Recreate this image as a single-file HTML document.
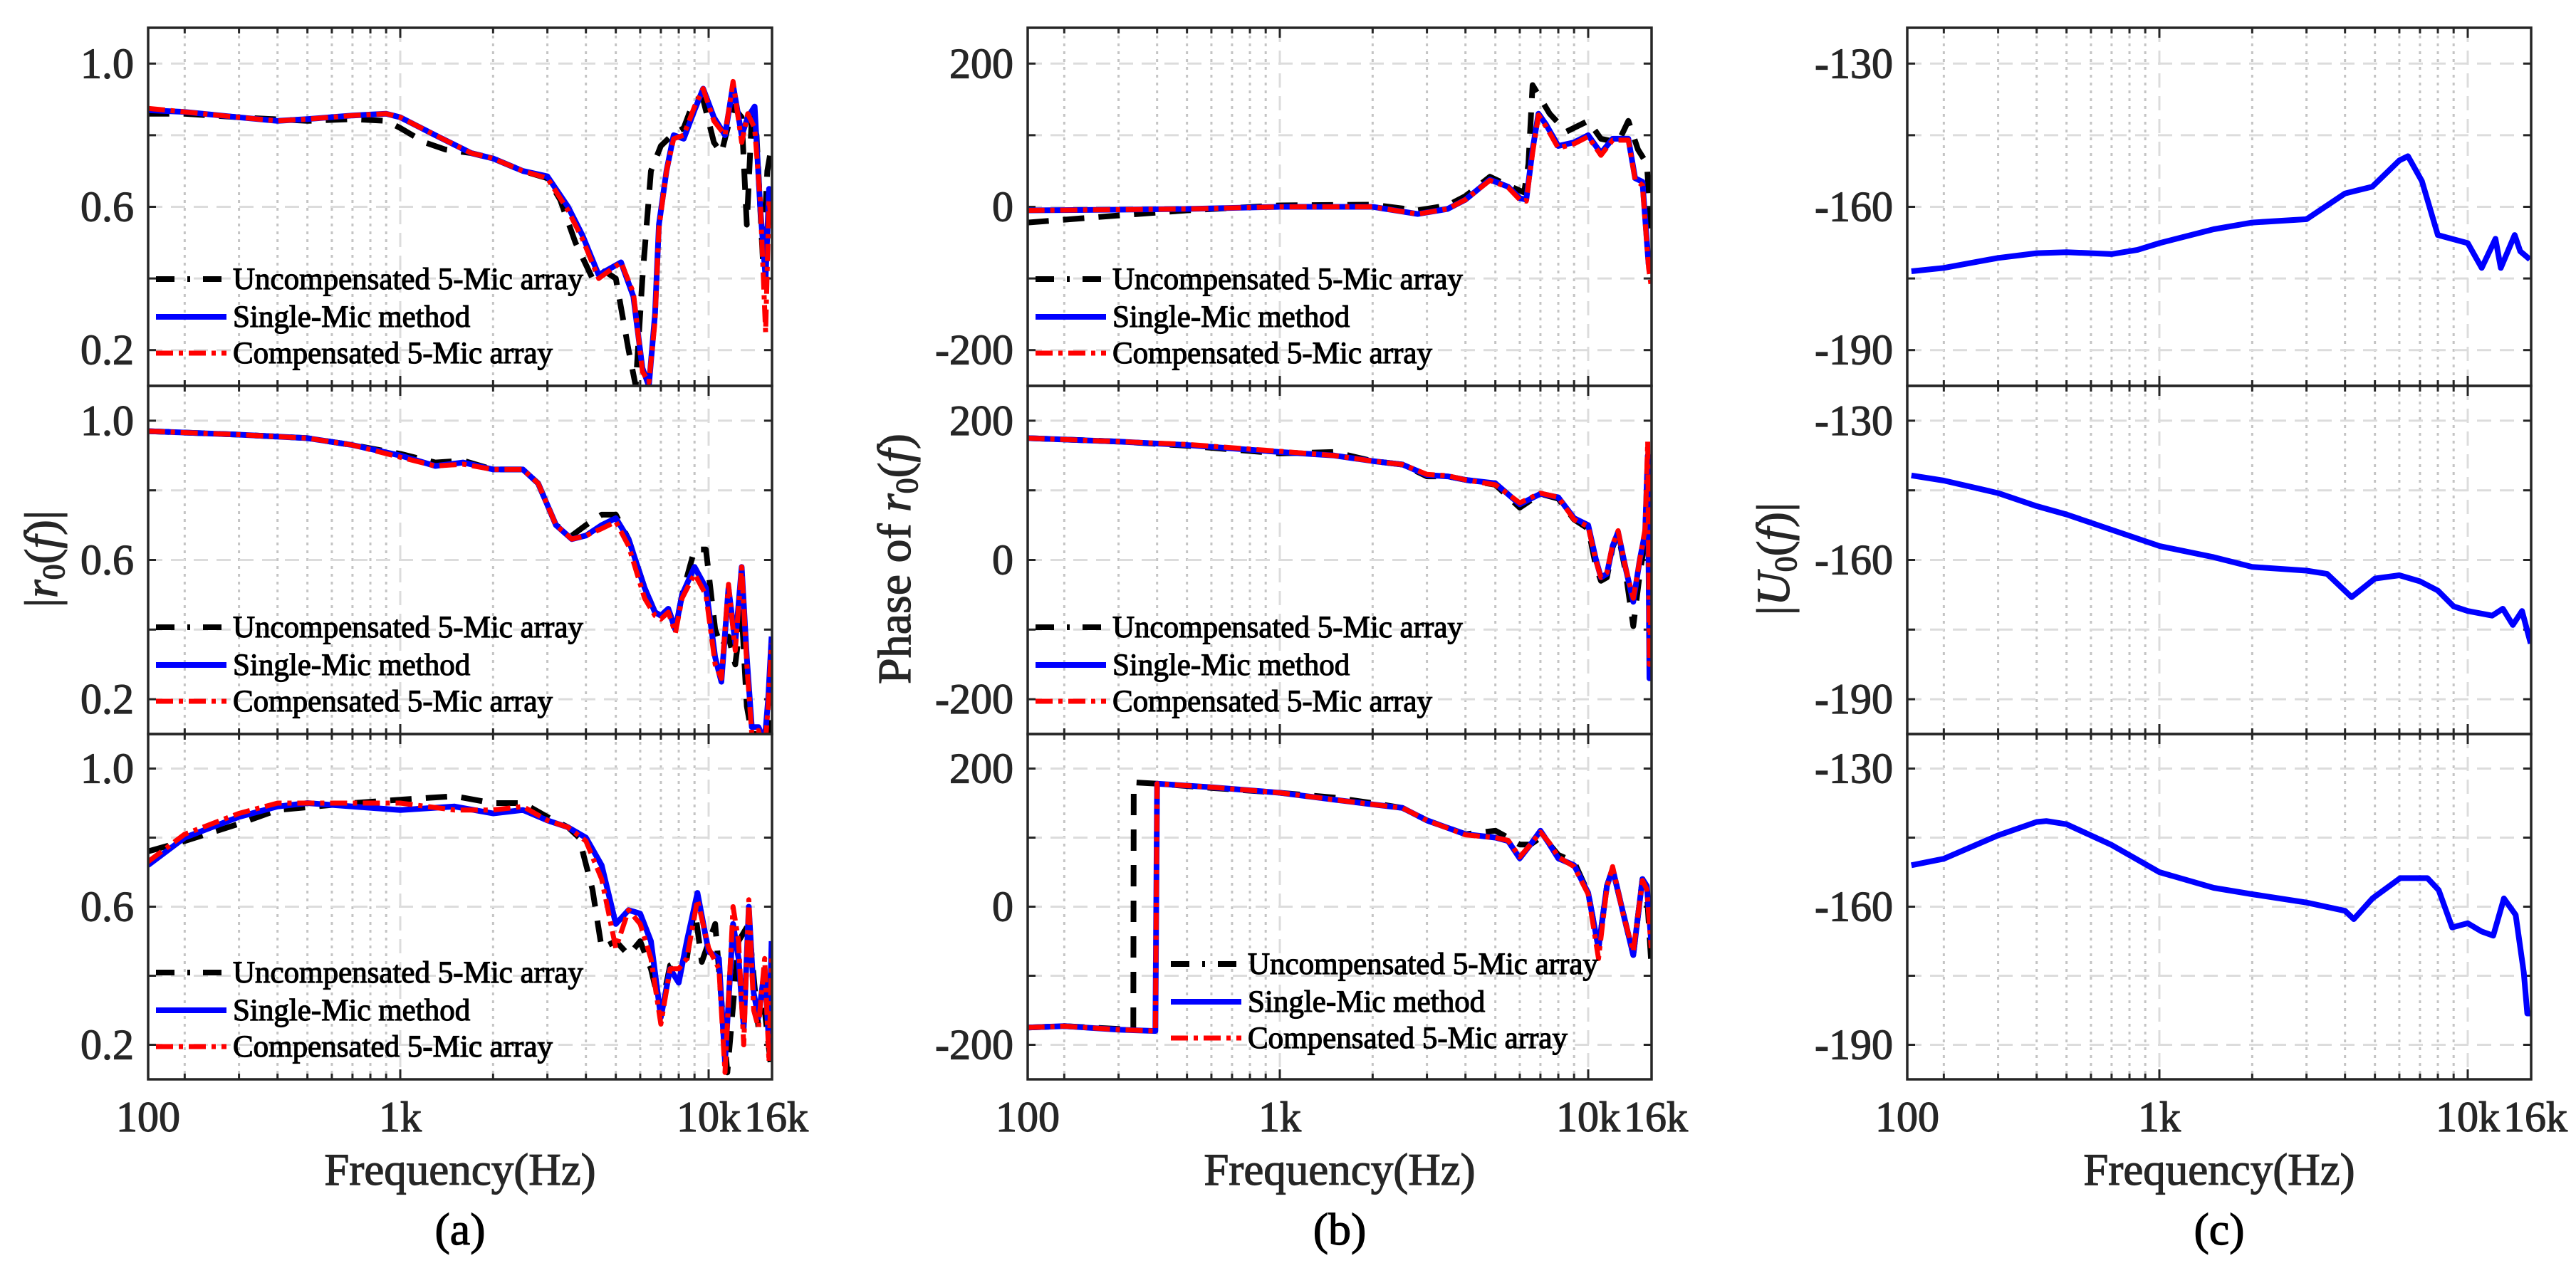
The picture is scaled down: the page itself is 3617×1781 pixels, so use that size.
<!DOCTYPE html>
<html><head><meta charset="utf-8"><style>
html,body{margin:0;padding:0;background:#fff;}
svg{display:block;font-family:"Liberation Serif",serif;}
svg text{stroke:currentColor;stroke-width:1.2px;}
</style></head><body>
<svg id="fig" width="3617" height="1781" viewBox="0 0 3617 1781" xmlns="http://www.w3.org/2000/svg"></svg>
<script>
// ---------- data ----------
const a1BlueF=[152,200,300,400,500,700,900,1000,1300,1700,2000,2500,3000,3500,3900,4400,5200,5700,6100,6400,6700,6900,7300,7700,8300,9000,9600,10400,11300,12000,12800,13400,14100,14700,15300,15700,16000];
const a1Blue=[0.87,0.865,0.85,0.84,0.845,0.855,0.86,0.85,0.80,0.75,0.735,0.70,0.685,0.60,0.52,0.41,0.445,0.35,0.15,0.10,0.30,0.55,0.70,0.80,0.79,0.87,0.93,0.85,0.80,0.94,0.80,0.85,0.88,0.60,0.40,0.65,0.55];
const a1Red=[0.875,0.865,0.85,0.84,0.845,0.855,0.86,0.85,0.80,0.75,0.735,0.70,0.68,0.59,0.51,0.40,0.445,0.36,0.14,0.11,0.28,0.54,0.70,0.79,0.80,0.88,0.93,0.84,0.80,0.95,0.78,0.86,0.82,0.62,0.25,0.62,0.55];
const a1BlackF=[152,200,300,500,700,900,1000,1200,1400,1700,2000,2500,3000,3300,3700,4200,4600,5000,5500,5800,6100,6500,7000,7600,8300,9000,9600,10400,11000,12000,12800,13300,13800,14300,15000,15500,16000];
const a1Black=[0.86,0.86,0.85,0.84,0.845,0.84,0.82,0.78,0.76,0.75,0.735,0.70,0.68,0.62,0.50,0.40,0.42,0.40,0.20,0.10,0.40,0.70,0.77,0.80,0.82,0.90,0.90,0.78,0.75,0.88,0.85,0.55,0.85,0.80,0.45,0.70,0.77];

const a2F=[152,300,500,700,1000,1300,1600,2000,2500,2800,3200,3600,4000,4500,5000,5500,6200,6700,7000,7400,7800,8200,9000,9800,10500,11000,11600,12200,12800,13300,13800,14500,15200,15600,16000];
const a2Blue=[0.97,0.96,0.95,0.93,0.90,0.87,0.88,0.86,0.86,0.82,0.70,0.66,0.67,0.70,0.72,0.66,0.52,0.45,0.44,0.46,0.40,0.50,0.58,0.52,0.32,0.25,0.52,0.36,0.58,0.32,0.12,0.12,0.08,0.20,0.38];
const a2Red=[0.97,0.96,0.95,0.93,0.895,0.87,0.875,0.86,0.86,0.82,0.70,0.66,0.67,0.69,0.71,0.64,0.49,0.44,0.43,0.45,0.39,0.49,0.56,0.50,0.30,0.26,0.53,0.34,0.58,0.30,0.10,0.11,0.05,0.18,0.36];
const a2Black=[0.97,0.96,0.95,0.93,0.905,0.88,0.885,0.86,0.86,0.82,0.70,0.67,0.70,0.73,0.73,0.66,0.52,0.45,0.44,0.46,0.40,0.50,0.63,0.63,0.40,0.35,0.38,0.30,0.45,0.18,0.10,0.10,0.05,0.10,0.25];

const a3F=[152,200,300,400,500,700,1000,1500,2000,2500,3000,3500,4000,4500,5000,5500,6000,6500,7000,7500,8000,8500,9200,10000,10800,11300,12000,12500,13000,13500,14000,14500,15200,15700,16000];
const a3Blue=[0.72,0.80,0.86,0.89,0.90,0.89,0.88,0.89,0.87,0.88,0.85,0.83,0.80,0.72,0.55,0.59,0.58,0.50,0.28,0.42,0.38,0.50,0.64,0.47,0.45,0.15,0.55,0.45,0.25,0.60,0.35,0.28,0.42,0.20,0.50];
const a3Red=[0.73,0.81,0.87,0.90,0.90,0.90,0.90,0.88,0.88,0.89,0.85,0.83,0.79,0.68,0.48,0.59,0.55,0.45,0.26,0.42,0.42,0.45,0.62,0.48,0.42,0.12,0.60,0.50,0.20,0.62,0.30,0.25,0.45,0.15,0.45];
const a3BlackF=[152,200,300,400,700,1000,1500,2000,2500,3000,3500,3800,4200,4500,5000,5500,6000,6500,7000,7500,8500,9000,9500,10500,11500,12500,13500,14500,15200,16000];
const a3Black=[0.76,0.79,0.84,0.88,0.90,0.91,0.92,0.90,0.90,0.86,0.83,0.80,0.65,0.48,0.50,0.46,0.50,0.42,0.30,0.43,0.45,0.60,0.44,0.55,0.12,0.50,0.55,0.25,0.30,0.12];

const b1F=[152,300,500,1000,2000,2800,3500,4000,4800,5500,6000,6300,6600,6900,7300,8000,9000,10000,11000,12000,13500,14200,15000,15700,16000];
const b1Blue=[-5,-4,-3,0,0,-10,-3,10,38,28,12,10,80,130,115,85,90,100,75,95,95,40,35,-80,-90];
const b1Red=[-5,-4,-3,0,0,-10,-3,10,37,27,10,8,75,128,112,82,88,98,72,93,93,38,30,-85,-110];
const b1BlackF=[152,300,500,1000,2000,2800,3500,4000,4800,5500,6200,6400,6600,7500,8500,10000,11000,12500,13500,14500,15500,16000];
const b1Black=[-22,-12,-5,2,3,-5,2,15,42,30,20,60,170,130,105,120,95,90,120,80,60,-30];

const b2F=[152,300,500,1000,1500,2000,2500,3000,3500,4000,5000,6000,7000,8000,9000,10000,10600,11000,11500,12000,12500,13200,14000,14700,15300,15600,15800,16000];
const b2Blue=[175,170,165,155,150,142,137,122,120,115,110,80,95,90,60,50,0,-25,-20,20,40,-10,-60,0,40,150,-170,-60];
const b2Red=[175,170,166,156,150,142,137,123,121,115,108,82,96,90,58,48,-2,-25,-18,22,42,-10,-55,0,45,170,-150,-60];
const b2Black=[175,170,164,153,155,142,137,120,120,115,108,75,95,88,58,45,-10,-30,-25,18,38,-15,-95,-20,30,140,-100,-110];

const b3F=[152,200,300,395,400,600,1000,1500,2000,2500,3000,4000,5000,5500,6000,6500,7000,7500,8000,9000,10000,10800,11500,12000,13000,14000,15000,15500,16000];
const b3Blue=[-175,-173,-178,-180,178,173,165,155,148,143,125,105,100,95,70,90,110,90,70,60,20,-60,30,55,-10,-70,40,30,-50];
const b3Red=[-175,-173,-178,-180,178,173,165,155,148,143,125,104,100,96,72,90,108,92,72,58,18,-75,28,58,-12,-65,38,25,-60];
const b3BlackF=[152,200,300,335,336,400,600,1000,1500,2000,2500,3000,4000,5000,5500,6000,6500,7000,7500,8000,9000,10000,10800,11500,12000,13000,14000,15000,15500,16000];
const b3Black=[-175,-173,-177,-178,180,178,172,165,158,150,143,125,105,110,100,90,90,100,90,75,65,20,-60,30,55,-10,-70,40,20,-80];

const c1F=[157,200,300,400,500,700,850,1000,1500,2000,3000,4000,4900,6000,6400,7100,8000,10000,11100,12300,12800,14200,14800,15900];
const c1Vals=[-173.5,-172.8,-170.7,-169.7,-169.5,-169.9,-169,-167.6,-164.7,-163.3,-162.6,-157.2,-155.8,-150.3,-149.4,-154.6,-165.9,-167.6,-172.8,-166.7,-172.8,-165.9,-169.3,-171];
const c2F=[157,200,300,400,500,700,1000,1500,2000,3000,3500,4200,5000,6000,7000,8000,9000,10000,12000,13000,14000,15000,16000];
const c2Vals=[-141.8,-142.9,-145.6,-148.4,-150.2,-153.5,-157,-159.4,-161.5,-162.3,-163,-168,-164,-163.3,-164.6,-166.6,-170,-171,-172,-170.5,-174,-171,-178];
const c3F=[157,200,300,400,430,500,700,1000,1500,2000,3000,4000,4270,4910,6040,7400,8050,8900,10000,11100,12100,13100,14300,15200,15600,16000];
const c3Vals=[-151,-149.6,-144.5,-141.6,-141.4,-142.1,-146.6,-152.5,-155.9,-157.3,-159.1,-160.9,-162.7,-158.2,-153.8,-153.8,-156.4,-164.5,-163.6,-165.4,-166.3,-158.2,-161.8,-174.3,-183.2,-183.2];

const yTicksA=[0.2,0.4,0.6,0.8,1.0], yLabA=["0.2","","0.6","","1.0"];
const yTicksB=[-200,-100,0,100,200], yLabB=["-200","","0","","200"];
const yTicksC=[-190,-175,-160,-145,-130], yLabC=["-190","","-160","","-130"];
const legendTexts=["Uncompensated 5-Mic array","Single-Mic method","Compensated 5-Mic array"];

// ---------- drawing ----------
const NS="http://www.w3.org/2000/svg";
const svg=document.getElementById('fig');
function mk(tag,attrs,parent){const e=document.createElementNS(NS,tag);for(const k in attrs)e.setAttribute(k,attrs[k]);(parent||svg).appendChild(e);return e;}
const rows=[[39,542],[542,1031],[1031,1516]];
const colOff=[0,1235,2470];
const X0=208,X1=1084;
function xs(f,off){return off+129+433*Math.log10(f/100);}
const minorF=[200,300,400,500,600,700,800,900,2000,3000,4000,5000,6000,7000,8000,9000];
const majorF=[1000,10000];
let clipId=0;
function panel(col,row,ylim,yt,yl,series,legendShift,legendUp){
  const off=colOff[col],x0=X0+off,x1=X1+off,y0=rows[row][0],y1=rows[row][1];
  const ys=v=>y1-(v-ylim[0])/(ylim[1]-ylim[0])*(y1-y0);
  const g=mk('g',{});
  
  
  minorF.forEach(f=>{const x=xs(f,off);const l=mk('line',{x1:x,x2:x,y1:y0,y2:y1,stroke:'#c4c4c4','stroke-width':3,'stroke-dasharray':'4 7'},g);});
  majorF.forEach(f=>{const x=xs(f,off);const l=mk('line',{x1:x,x2:x,y1:y0,y2:y1,stroke:'#dcdcdc','stroke-width':3,'stroke-dasharray':'20 12'},g);});
  yt.forEach((v,i)=>{const y=ys(v);const l=mk('line',{x1:x0,x2:x1,y1:y,y2:y,stroke:'#dcdcdc','stroke-width':3,'stroke-dasharray':'20 12'},g);
    mk('line',{x1:x0,x2:x0+11,y1:y,y2:y,stroke:'#262626','stroke-width':3},g);
    mk('line',{x1:x1,x2:x1-11,y1:y,y2:y,stroke:'#262626','stroke-width':3},g);
    if(yl[i]){const t=mk('text',{x:x0-20,y:y+20,'text-anchor':'end','font-size':60,fill:'#262626',color:'#262626'},g);t.textContent=yl[i];}
  });
  minorF.concat(majorF).forEach(f=>{const x=xs(f,off);const L=majorF.includes(f)?14:8;
    mk('line',{x1:x,x2:x,y1:y1,y2:y1-L,stroke:'#262626','stroke-width':3},g);
    mk('line',{x1:x,x2:x,y1:y0,y2:y0+L,stroke:'#262626','stroke-width':3},g);});
  const cid='clip'+(clipId++);
  const cp=mk('clipPath',{id:cid},g);mk('rect',{x:x0,y:y0,width:x1-x0,height:y1-y0},cp);
  const sg=mk('g',{'clip-path':'url(#'+cid+')'},g);
  series.forEach(s=>{
    const d=s.f.map((f,i)=>(i?'L':'M')+xs(f,off).toFixed(1)+','+ys(s.v[i]).toFixed(1)).join('');
    const p=mk('path',{d:d,fill:'none',stroke:s.c,'stroke-width':s.w,'stroke-dasharray':s.dash||'none','stroke-linejoin':'round'},sg);
    
    
  });
  mk('rect',{x:x0,y:y0,width:x1-x0,height:y1-y0,fill:'none',stroke:'#262626','stroke-width':3.5},g);
  if(legendShift!==null){
    const lg=mk('g',{},g);
    
    
    const sty=[['#000','26 18 4 18',8],['#0000ff','none',8],['#ff0000','24 8 6 8',7]];
    [-150,-97,-46].forEach((dy,i)=>{const y=y1+dy-legendUp;const lx=x0+11+legendShift;
      mk('line',{x1:lx,x2:lx+99,y1:y,y2:y,stroke:sty[i][0],'stroke-width':sty[i][2],'stroke-dasharray':sty[i][1]},lg);
      const t=mk('text',{x:lx+108,y:y+14,'font-size':43,fill:'#000',color:'#000'},lg);t.textContent=legendTexts[i];
      });
  }
}
function trio(bf,bv,blf,blv,rv){return [
 {f:blf,v:blv,c:'#000',w:8,dash:'30 20',name:'uncompensated-line'},
 {f:bf,v:bv,c:'#0000ff',w:8,name:'single-mic-line'},
 {f:bf,v:rv,c:'#ff0000',w:7,dash:'24 8 6 8',name:'compensated-line'}];}
const ylA=[0.1,1.1],ylB=[-250,250],ylC=[-197.5,-122.5];
panel(0,0,ylA,yTicksA,yLabA,trio(a1BlueF,a1Blue,a1BlackF,a1Black,a1Red),0,0);
panel(0,1,ylA,yTicksA,yLabA,trio(a2F,a2Blue,a2F,a2Black,a2Red),0,0);
panel(0,2,ylA,yTicksA,yLabA,trio(a3F,a3Blue,a3BlackF,a3Black,a3Red),0,0);
panel(1,0,ylB,yTicksB,yLabB,trio(b1F,b1Blue,b1BlackF,b1Black,b1Red),0,0);
panel(1,1,ylB,yTicksB,yLabB,trio(b2F,b2Blue,b2F,b2Black,b2Red),0,0);
panel(1,2,ylB,yTicksB,yLabB,trio(b3F,b3Blue,b3BlackF,b3Black,b3Red),190,12);
panel(2,0,ylC,yTicksC,yLabC,[{f:c1F,v:c1Vals,c:'#0000ff',w:8,name:'u0-line-top'}],null,0);
panel(2,1,ylC,yTicksC,yLabC,[{f:c2F,v:c2Vals,c:'#0000ff',w:8,name:'u0-line-middle'}],null,0);
panel(2,2,ylC,yTicksC,yLabC,[{f:c3F,v:c3Vals,c:'#0000ff',w:8,name:'u0-line-bottom'}],null,0);

// x labels
['a','b','c'].forEach((n,i)=>{const off=colOff[i];
  [['100',X0],['1k',562],['10k',995],['16k',1090]].forEach(([s,x])=>{const xx=(s==='100')?X0+off:x+off;
    const t=mk('text',{x:xx,y:1589,'text-anchor':'middle','font-size':60,fill:'#262626',color:'#262626'});t.textContent=s;
    });
  const cx=(X0+X1)/2+off;
  const t=mk('text',{x:cx,y:1664,'text-anchor':'middle','font-size':63,fill:'#262626',color:'#262626'});t.textContent='Frequency(Hz)';
  
  const c=mk('text',{x:cx,y:1748,'text-anchor':'middle','font-size':64,fill:'#000',color:'#000'});c.textContent='('+n+')';
  
});
// y labels
function ylabel(x,parts,name){const t=mk('text',{x:0,y:0,'text-anchor':'middle','font-size':66,fill:'#262626',color:'#262626',transform:'translate('+x+',785) rotate(-90)'});
  parts.forEach(p=>{const s=mk('tspan',p[1]||{},t);s.textContent=p[0];});
  }
ylabel(80,[['|'],['r',{'font-style':'italic'}],['0',{'font-size':44,dy:10}],['(',{dy:-10}],['f',{'font-style':'italic'}],[')|']],'y-axis-title-a');
ylabel(1278,[['Phase of '],['r',{'font-style':'italic'}],['0',{'font-size':44,dy:10}],['(',{dy:-10}],['f',{'font-style':'italic'}],[')']],'y-axis-title-b');
ylabel(2512,[['|'],['U',{'font-style':'italic'}],['0',{'font-size':44,dy:10}],['(',{dy:-10}],['f',{'font-style':'italic'}],[')|']],'y-axis-title-c');
</script>
</body></html>
